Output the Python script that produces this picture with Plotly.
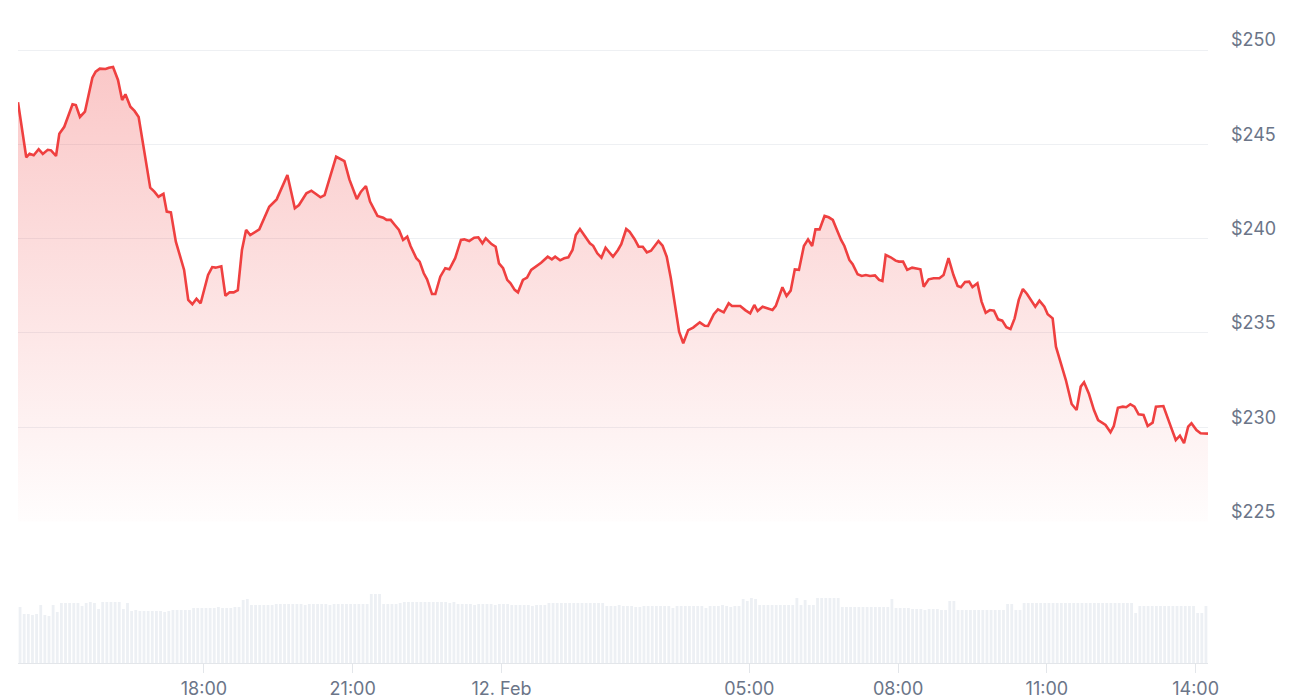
import pandas as pd
import plotly.graph_objects as go

# ---------------- data ----------------
price_times = [
    "14:15", "14:25", "14:29", "14:34", "14:40", "14:45", "14:51", "14:55", "15:01", "15:05",
    "15:11", "15:21", "15:25", "15:30", "15:36", "15:45", "15:49", "15:54", "16:01", "16:05",
    "16:10", "16:16", "16:21", "16:25", "16:31", "16:36", "16:41", "16:46", "16:55", "17:00",
    "17:05", "17:11", "17:15", "17:20", "17:26", "17:36", "17:41", "17:46", "17:51", "17:56",
    "18:05", "18:10", "18:14", "18:21", "18:26", "18:31", "18:36", "18:41", "18:46", "18:51",
    "18:56", "19:07", "19:19", "19:28", "19:41", "19:50", "19:55", "20:04", "20:10", "20:16",
    "20:21", "20:26", "20:34", "20:40", "20:50", "20:56", "21:05", "21:10", "21:16", "21:21",
    "21:30", "21:37", "21:41", "21:46", "21:51", "21:56", "22:01", "22:06", "22:10", "22:17",
    "22:21", "22:26", "22:30", "22:36", "22:40", "22:46", "22:52", "22:57", "23:04", "23:11",
    "23:15", "23:21", "23:27", "23:32", "23:37", "23:41", "23:48", "23:53", "23:57", "00:02",
    "00:07", "00:11", "00:16", "00:20", "00:26", "00:31", "00:36", "00:42", "00:48", "00:56",
    "01:01", "01:05", "01:11", "01:16", "01:21", "01:26", "01:30", "01:35", "01:41", "01:47",
    "01:51", "01:56", "02:01", "02:06", "02:11", "02:15", "02:21", "02:25", "02:31", "02:35",
    "02:41", "02:46", "02:51", "02:56", "03:01", "03:06", "03:10", "03:15", "03:20", "03:25",
    "03:30", "03:35", "03:40", "03:46", "03:52", "04:00", "04:06", "04:10", "04:17", "04:22",
    "04:29", "04:35", "04:39", "04:44", "04:49", "04:55", "05:01", "05:06", "05:10", "05:16",
    "05:22", "05:28", "05:32", "05:35", "05:40", "05:45", "05:50", "05:55", "06:00", "06:06",
    "06:11", "06:16", "06:20", "06:25", "06:31", "06:36", "06:41", "06:46", "06:51", "06:55",
    "07:01", "07:05", "07:11", "07:16", "07:21", "07:26", "07:32", "07:37", "07:41", "07:45",
    "07:51", "07:57", "08:01", "08:06", "08:11", "08:17", "08:23", "08:27", "08:31", "08:37",
    "08:43", "08:50", "08:55", "09:01", "09:07", "09:12", "09:16", "09:21", "09:26", "09:30",
    "09:36", "09:41", "09:46", "09:51", "09:56", "10:01", "10:06", "10:11", "10:16", "10:21",
    "10:26", "10:31", "10:36", "10:41", "10:46", "10:51", "10:57", "11:01", "11:07", "11:11",
    "11:17", "11:23", "11:30", "11:36", "11:41", "11:45", "11:51", "11:57", "12:02", "12:07",
    "12:11", "12:17", "12:21", "12:26", "12:32", "12:36", "12:41", "12:46", "12:51", "12:57",
    "13:02", "13:08", "13:12", "13:21", "13:26", "13:31", "13:36", "13:41", "13:46", "13:51",
    "13:55", "14:01", "14:06", "14:11", "14:15",
]

prices = [
    247.23, 244.31, 244.50, 244.42, 244.74, 244.49, 244.71, 244.68, 244.38, 245.56,
    245.93, 247.12, 247.08, 246.45, 246.73, 248.53, 248.85, 249.01, 248.99, 249.06,
    249.10, 248.41, 247.35, 247.65, 246.99, 246.77, 246.45, 245.14, 242.70, 242.49,
    242.22, 242.37, 241.43, 241.39, 239.84, 238.34, 236.75, 236.52, 236.81, 236.57,
    238.07, 238.49, 238.46, 238.53, 236.97, 237.15, 237.15, 237.26, 239.40, 240.46,
    240.19, 240.49, 241.69, 242.08, 243.37, 241.61, 241.78, 242.40, 242.54, 242.35,
    242.19, 242.31, 243.46, 244.34, 244.11, 243.14, 242.10, 242.49, 242.79, 241.96,
    241.20, 241.11, 240.99, 240.99, 240.72, 240.46, 239.93, 240.10, 239.61, 238.96,
    238.78, 238.16, 237.84, 237.06, 237.06, 237.98, 238.43, 238.37, 238.96, 239.93,
    239.96, 239.87, 240.05, 240.07, 239.75, 240.02, 239.71, 239.57, 238.69, 238.43,
    237.81, 237.63, 237.28, 237.15, 237.81, 237.93, 238.34, 238.51, 238.72, 239.04,
    238.90, 239.04, 238.85, 238.96, 239.01, 239.40, 240.19, 240.51, 240.10, 239.75,
    239.62, 239.22, 238.99, 239.52, 239.25, 239.04, 239.40, 239.70, 240.51, 240.37,
    239.98, 239.57, 239.57, 239.27, 239.36, 239.62, 239.87, 239.62, 239.04, 237.90,
    236.48, 235.06, 234.45, 235.15, 235.28, 235.56, 235.38, 235.37, 235.99, 236.25,
    236.09, 236.57, 236.43, 236.43, 236.43, 236.21, 236.04, 236.48, 236.16, 236.39,
    236.31, 236.21, 236.43, 236.84, 237.42, 236.96, 237.24, 238.37, 238.34, 239.61,
    239.96, 239.61, 240.49, 240.49, 241.20, 241.13, 240.99, 240.46, 239.93, 239.61,
    238.87, 238.64, 238.11, 238.02, 238.07, 238.02, 238.05, 237.81, 237.75, 239.13,
    239.01, 238.83, 238.78, 238.78, 238.34, 238.46, 238.43, 238.37, 237.45, 237.84,
    237.90, 237.90, 238.07, 238.96, 238.07, 237.49, 237.42, 237.70, 237.72, 237.43,
    237.63, 236.66, 236.07, 236.21, 236.18, 235.72, 235.65, 235.30, 235.21, 235.77,
    236.75, 237.33, 237.06, 236.69, 236.39, 236.71, 236.39, 235.99, 235.77, 234.27,
    233.39, 232.50, 231.23, 230.91, 232.15, 232.38, 231.76, 230.91, 230.38, 230.26,
    230.12, 229.73, 230.06, 231.03, 231.09, 231.06, 231.22, 231.09, 230.68, 230.65,
    230.06, 230.24, 231.09, 231.12, 230.56, 229.91, 229.32, 229.55, 229.15, 230.03,
    230.21, 229.85, 229.68, 229.68, 229.66,
]

start_date = "2025-02-11"
range_start = "2025-02-11 14:15"
range_end = "2025-02-12 14:15"

# 5-minute volume bars (relative units)
volumes = [
    5.6, 4.9, 4.9, 4.8, 4.9, 5.8, 4.8, 4.7, 5.8, 5.1,
    6.0, 6.0, 6.0, 6.0, 6.0, 5.7, 6.0, 6.1, 6.0, 5.4,
    6.1, 6.1, 6.1, 6.1, 6.1, 5.4, 6.0, 5.2, 5.3, 5.2,
    5.2, 5.2, 5.2, 5.2, 5.2, 5.1, 5.2, 5.3, 5.3, 5.3,
    5.3, 5.3, 5.5, 5.5, 5.5, 5.5, 5.5, 5.5, 5.6, 5.5,
    5.5, 5.5, 5.6, 5.6, 6.3, 6.4, 5.8, 5.8, 5.8, 5.8,
    5.8, 5.8, 5.9, 5.9, 5.9, 5.9, 5.9, 5.9, 5.9, 5.8,
    5.9, 5.9, 5.9, 5.9, 5.9, 5.8, 5.9, 5.9, 5.9, 5.9,
    5.9, 5.9, 5.9, 5.9, 5.9, 6.9, 6.9, 6.9, 5.9, 5.9,
    5.9, 5.9, 6.0, 6.1, 6.1, 6.1, 6.1, 6.1, 6.1, 6.1,
    6.1, 6.1, 6.1, 6.1, 6.0, 6.1, 5.9, 5.9, 5.9, 5.9,
    5.8, 5.9, 5.9, 5.9, 5.9, 5.8, 5.9, 5.9, 5.9, 5.8,
    5.8, 5.8, 5.8, 5.8, 5.7, 5.8, 5.8, 5.8, 6.0, 6.0,
    6.0, 6.0, 6.0, 6.0, 6.0, 6.0, 6.0, 6.0, 6.0, 6.0,
    6.0, 6.0, 5.7, 5.7, 5.7, 5.8, 5.7, 5.7, 5.7, 5.6,
    5.6, 5.7, 5.7, 5.7, 5.7, 5.7, 5.7, 5.7, 5.5, 5.7,
    5.7, 5.7, 5.7, 5.7, 5.7, 5.7, 5.5, 5.7, 5.7, 5.7,
    5.8, 5.7, 5.6, 5.7, 5.7, 6.4, 6.2, 6.5, 6.4, 5.8,
    5.8, 5.8, 5.8, 5.8, 5.8, 5.8, 5.8, 5.8, 6.5, 5.8,
    6.3, 5.8, 5.8, 6.5, 6.5, 6.5, 6.5, 6.5, 6.5, 5.6,
    5.6, 5.6, 5.6, 5.6, 5.6, 5.6, 5.6, 5.6, 5.6, 5.6,
    5.6, 6.4, 5.5, 5.5, 5.5, 5.5, 5.4, 5.4, 5.4, 5.3,
    5.4, 5.4, 5.4, 5.3, 5.3, 6.2, 6.2, 5.3, 5.3, 5.3,
    5.3, 5.3, 5.3, 5.3, 5.3, 5.3, 5.3, 5.3, 5.3, 5.9,
    5.9, 5.3, 5.3, 6.0, 6.0, 6.0, 6.0, 6.0, 6.0, 6.0,
    6.0, 6.0, 6.0, 6.0, 6.0, 6.0, 6.0, 6.0, 6.0, 6.0,
    6.0, 6.0, 6.0, 6.0, 6.0, 6.0, 6.0, 6.0, 6.0, 6.0,
    5.0, 5.7, 5.7, 5.7, 5.7, 5.7, 5.7, 5.7, 5.7, 5.7,
    5.7, 5.7, 5.7, 5.7, 5.7, 5.0, 5.0, 5.7,
]

x_tick_times = [
    "2025-02-11 18:00", "2025-02-11 21:00", "2025-02-12 00:00",
    "2025-02-12 05:00", "2025-02-12 08:00", "2025-02-12 11:00", "2025-02-12 14:00",
]
x_tick_labels = ["18:00", "21:00", "12. Feb", "05:00", "08:00", "11:00", "14:00"]

y_tick_values = [225, 230, 235, 240, 245, 250]
y_tick_labels = ["$225", "$230", "$235", "$240", "$245", "$250"]

# ---------------- build timestamps ----------------
day = pd.Timestamp(start_date)
price_ts = []
prev = None
for t in price_times:
    h, m = map(int, t.split(":"))
    cur = day + pd.Timedelta(hours=h, minutes=m)
    if prev is not None and cur < prev:
        day += pd.Timedelta(days=1)
        cur = day + pd.Timedelta(hours=h, minutes=m)
    price_ts.append(cur)
    prev = cur

vol_ts = pd.date_range(range_start, periods=len(volumes), freq="5min") + pd.Timedelta(seconds=150)

LINE = "#ef4040"
LABEL = "#6b7588"
GRID = "#eef0f3"
FONT = "Inter"
FS = 18

fig = go.Figure()
fig.add_trace(go.Scatter(
    x=price_ts, y=prices, mode="lines",
    line=dict(color=LINE, width=2.6, shape="linear"),
    fill="tozeroy",
    fillgradient=dict(
        type="vertical",
        colorscale=[[0, "rgba(239,64,64,0.01)"], [1, "rgba(239,64,64,0.30)"]],
        start=225, stop=250,
    ),
    xaxis="x", yaxis="y", hoverinfo="skip", showlegend=False,
))
fig.add_trace(go.Bar(
    x=vol_ts, y=volumes, marker=dict(color="#edf0f4", line=dict(width=0)),
    xaxis="x2", yaxis="y2", hoverinfo="skip", showlegend=False,
))

plot_top, plot_bottom = 20, 663
H = plot_bottom - plot_top

def frac(py):
    return (plot_bottom - py) / H

y_lo, y_hi = 225, 250.1          # small headroom so the $250 gridline is drawn
px_per_unit = (521.5 - 50) / 25
top_px = 50 - (y_hi - 250) * px_per_unit

fig.update_layout(
    width=1300, height=700,
    margin=dict(l=18, r=92, t=plot_top, b=700 - plot_bottom, autoexpand=False),
    plot_bgcolor="white", paper_bgcolor="white",
    showlegend=False, bargap=0.32,
    font=dict(family=FONT, color=LABEL, size=FS),
    xaxis=dict(
        domain=[0, 1], anchor="y", type="date", automargin=False,
        range=[range_start, range_end],
        showgrid=False, showticklabels=False, zeroline=False, showline=False, ticks="",
    ),
    yaxis=dict(
        domain=[frac(521.5), frac(top_px)], anchor="x", side="right", automargin=False,
        range=[y_lo, y_hi], tickvals=y_tick_values, ticktext=y_tick_labels,
        showgrid=True, gridcolor=GRID, gridwidth=1, zeroline=False, showline=False,
        ticks="", ticklabelstandoff=22, ticklabelshift=-10,
        tickfont=dict(family=FONT, size=FS, color=LABEL),
    ),
    xaxis2=dict(
        domain=[0, 1], anchor="y2", type="date", matches="x", automargin=False,
        range=[range_start, range_end],
        tickvals=x_tick_times, ticktext=x_tick_labels,
        showgrid=False, zeroline=False, showline=True, linecolor="#e3e6ea", linewidth=1,
        ticks="outside", ticklen=9, tickcolor="#e3e6ea", tickwidth=1,
        tickfont=dict(family=FONT, size=FS, color=LABEL),
    ),
    yaxis2=dict(
        domain=[0, 120 / H], anchor="x2", range=[0, 12], visible=False, automargin=False,
    ),
)

fig.write_html(
    "out.html",
    config={"displayModeBar": False},
    post_script="document.body.style.margin='0';document.body.style.overflow='hidden';",
)
